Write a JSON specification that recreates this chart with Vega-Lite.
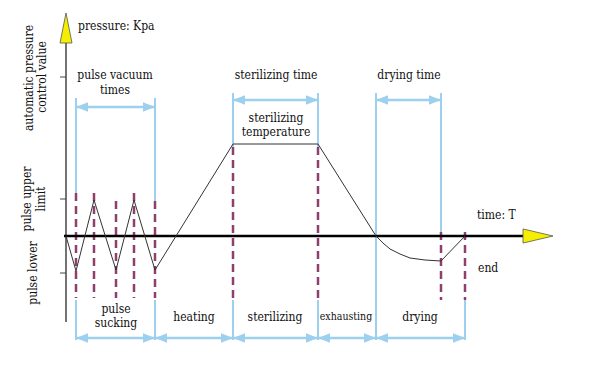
{
  "$schema": "https://vega.github.io/schema/vega-lite/v6.json",
  "width": 590,
  "height": 383,
  "autosize": {"type": "fit", "contains": "padding"},
  "padding": 0,
  "background": "white",
  "config": {
    "view": {"stroke": null}
  },
  "datasets": {
    "blueV": [
      {"t": 10, "p": 138, "p2": 43}, {"t": 10, "p": -64, "p2": -104},
      {"t": 89, "p": 138, "p2": 35}, {"t": 89, "p": -64, "p2": -104},
      {"t": 167, "p": 143, "p2": 89}, {"t": 167, "p": -64, "p2": -104},
      {"t": 252, "p": 143, "p2": 89}, {"t": 252, "p": -64, "p2": -104},
      {"t": 310, "p": 143, "p2": -104},
      {"t": 375, "p": 143, "p2": 2},
      {"t": 399, "p": -64, "p2": -104}
    ],
    "arrows": [
      {"t": 10, "t2": 89, "p": 129},
      {"t": 167, "t2": 252, "p": 136},
      {"t": 310, "t2": 375, "p": 136},
      {"t": 10, "t2": 89, "p": -102},
      {"t": 89, "t2": 167, "p": -102},
      {"t": 167, "t2": 252, "p": -102},
      {"t": 252, "t2": 310, "p": -102},
      {"t": 310, "t2": 399, "p": -102}
    ],
    "dashes": [
      {"t": 10, "p": 43, "p2": -62},
      {"t": 28, "p": 43, "p2": -62},
      {"t": 50, "p": 35, "p2": -62},
      {"t": 68, "p": 43, "p2": -62},
      {"t": 89, "p": 35, "p2": -62},
      {"t": 167, "p": 89, "p2": -64},
      {"t": 252, "p": 89, "p2": -64},
      {"t": 375, "p": 4, "p2": -64},
      {"t": 399, "p": 4, "p2": -64}
    ],
    "curve": [
      {"i": 0, "t": 0, "p": 0},
      {"i": 1, "t": 10, "p": -35},
      {"i": 2, "t": 28, "p": 36},
      {"i": 3, "t": 50, "p": -34},
      {"i": 4, "t": 68, "p": 36},
      {"i": 5, "t": 89, "p": -34},
      {"i": 6, "t": 167, "p": 92},
      {"i": 7, "t": 252, "p": 92},
      {"i": 8, "t": 310, "p": 0},
      {"i": 9, "t": 317, "p": -7},
      {"i": 10, "t": 324, "p": -13},
      {"i": 11, "t": 334, "p": -18},
      {"i": 12, "t": 344, "p": -22},
      {"i": 13, "t": 359, "p": -24},
      {"i": 14, "t": 375, "p": -25},
      {"i": 15, "t": 399, "p": 0}
    ],
    "yaxis": [{"t": 0, "p": -86, "p2": 200}],
    "xaxis": [{"t": -2, "t2": 462, "p": 0}],
    "ticks": [
      {"t": -6, "t2": 0, "p": 159},
      {"t": -6, "t2": 0, "p": 37},
      {"t": -6, "t2": 0, "p": -37}
    ],
    "yarrow": [{"axis": "y", "t": 0, "p": 208}, {"axis": "x", "t": 472, "p": 0}],
    "labels": [
      {"t": 49, "p": 161, "label": "pulse vacuum"},
      {"t": 49, "p": 146, "label": "times"},
      {"t": 210, "p": 161, "label": "sterilizing time"},
      {"t": 343, "p": 161, "label": "drying time"},
      {"t": 210, "p": 118, "label": "sterilizing"},
      {"t": 210, "p": 104, "label": "temperature"},
      {"t": 50, "p": -73, "label": "pulse"},
      {"t": 50, "p": -87, "label": "sucking"},
      {"t": 128, "p": -81, "label": "heating"},
      {"t": 209, "p": -81, "label": "sterilizing"},
      {"t": 354, "p": -81, "label": "drying"}
    ],
    "small": [{"t": 280, "p": -81, "label": "exhausting"}],
    "leftLabels": [
      {"t": 12, "p": 210, "label": "pressure: Kpa"},
      {"t": 411, "p": 21, "label": "time: T"},
      {"t": 412, "p": -32, "label": "end"}
    ],
    "vLabels": [
      {"t": -37, "p": 158, "label": "automatic pressure"},
      {"t": -24, "p": 159, "label": "control value"},
      {"t": -39, "p": 37, "label": "pulse upper"},
      {"t": -25, "p": 37, "label": "limit"},
      {"t": -33, "p": -37, "label": "pulse lower"}
    ]
  },
  "encoding": {
    "x": {"field": "t", "type": "quantitative", "scale": {"domain": [-66, 524], "nice": false, "zero": false}, "axis": null},
    "y": {"field": "p", "type": "quantitative", "scale": {"domain": [-147, 236], "nice": false, "zero": false}, "axis": null}
  },
  "layer": [
    {
      "data": {"name": "blueV"},
      "mark": {"type": "rule", "color": "#9dcfee", "strokeWidth": 2},
      "encoding": {"y2": {"field": "p2"}}
    },
    {
      "data": {"name": "arrows"},
      "mark": {"type": "rule", "color": "#9dcfee", "strokeWidth": 2.5},
      "encoding": {"x2": {"field": "t2"}}
    },
    {
      "data": {"name": "arrows"},
      "mark": {"type": "point", "shape": "M0,0L2,-0.8L2,0.8Z", "filled": true, "size": 144, "color": "#9dcfee", "opacity": 1},
      "encoding": {}
    },
    {
      "data": {"name": "arrows"},
      "mark": {"type": "point", "shape": "M0,0L-2,-0.8L-2,0.8Z", "filled": true, "size": 144, "color": "#9dcfee", "opacity": 1},
      "encoding": {"x": {"field": "t2", "type": "quantitative"}}
    },
    {
      "data": {"name": "dashes"},
      "mark": {"type": "rule", "color": "#8f3f6d", "strokeWidth": 2.5, "strokeDash": [8, 5]},
      "encoding": {"y2": {"field": "p2"}}
    },
    {
      "data": {"name": "yaxis"},
      "mark": {"type": "rule", "color": "#444444", "strokeWidth": 1.5},
      "encoding": {"y2": {"field": "p2"}}
    },
    {
      "data": {"name": "ticks"},
      "mark": {"type": "rule", "color": "#444444", "strokeWidth": 1},
      "encoding": {"x2": {"field": "t2"}}
    },
    {
      "data": {"name": "xaxis"},
      "mark": {"type": "rule", "color": "#000000", "strokeWidth": 2.5},
      "encoding": {"x2": {"field": "t2"}}
    },
    {
      "data": {"name": "curve"},
      "mark": {"type": "line", "color": "#333333", "strokeWidth": 1},
      "encoding": {"order": {"field": "i", "type": "quantitative"}}
    },
    {
      "data": {"name": "yarrow"},
      "transform": [{"filter": "datum.axis === 'y'"}],
      "mark": {"type": "point", "shape": "M0,-1L0.4,1L-0.4,1Z", "filled": true, "size": 900, "fill": "#f5ee00", "stroke": "#555555", "strokeWidth": 0.8, "opacity": 1},
      "encoding": {}
    },
    {
      "data": {"name": "yarrow"},
      "transform": [{"filter": "datum.axis === 'x'"}],
      "mark": {"type": "point", "shape": "M1,0L-1,-0.47L-1,0.47Z", "filled": true, "size": 900, "fill": "#f5ee00", "stroke": "#555555", "strokeWidth": 0.8, "opacity": 1},
      "encoding": {}
    },
    {
      "data": {"name": "labels"},
      "mark": {"type": "text", "align": "center", "baseline": "middle", "font": "DejaVu Serif Condensed, DejaVu Serif, serif", "fontSize": 12, "color": "#111111"},
      "encoding": {"text": {"field": "label"}}
    },
    {
      "data": {"name": "small"},
      "mark": {"type": "text", "align": "center", "baseline": "middle", "font": "DejaVu Serif Condensed, DejaVu Serif, serif", "fontSize": 10.5, "color": "#111111"},
      "encoding": {"text": {"field": "label"}}
    },
    {
      "data": {"name": "leftLabels"},
      "mark": {"type": "text", "align": "left", "baseline": "middle", "font": "DejaVu Serif Condensed, DejaVu Serif, serif", "fontSize": 12, "color": "#111111"},
      "encoding": {"text": {"field": "label"}}
    },
    {
      "data": {"name": "vLabels"},
      "mark": {"type": "text", "align": "center", "baseline": "middle", "angle": 270, "font": "DejaVu Serif Condensed, DejaVu Serif, serif", "fontSize": 12, "color": "#111111"},
      "encoding": {"text": {"field": "label"}}
    }
  ]
}
